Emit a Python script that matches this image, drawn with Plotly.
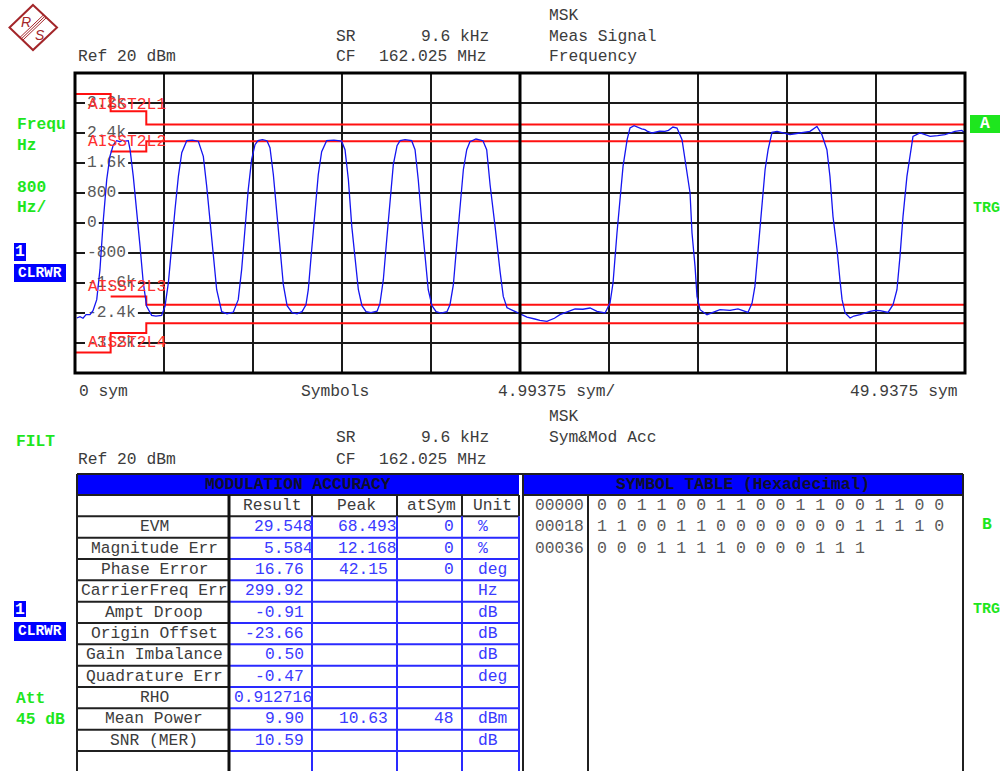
import plotly.graph_objects as go

W, H = 1003, 771

# ---------------- data ----------------
X_SPAN = 49.9375          # sym, full x range
X_DIV = 4.99375           # sym per division
Y_MIN, Y_MAX, Y_DIV = -4000, 4000, 800   # Hz

trace_sym = [0.10, 0.28, 0.45, 0.62, 0.84, 1.01, 1.22, 1.40, 1.59, 1.78, 1.96, 2.15, 2.34, 2.52, 2.67, 2.81, 2.99,
             3.09, 3.27, 3.46, 3.65, 3.83, 4.02, 4.30, 4.54, 4.86, 5.05, 5.24, 5.43, 5.61, 5.80, 5.99, 6.27, 6.59,
             6.92, 7.20, 7.39, 7.57, 7.76, 7.95, 8.23, 8.53, 8.88, 9.16, 9.35, 9.54, 9.72, 9.91, 10.10, 10.27, 10.52,
             10.77, 10.94, 11.13, 11.32, 11.50, 11.69, 11.90, 12.18, 12.46, 12.74, 12.96, 13.09, 13.28, 13.47, 13.65,
             13.84, 14.12, 14.53, 14.96, 15.15, 15.34, 15.53, 15.71, 15.90, 16.10, 16.33, 16.61, 16.95, 17.11, 17.30,
             17.49, 17.67, 17.86, 18.07, 18.24, 18.52, 18.89, 19.08, 19.26, 19.45, 19.64, 19.82, 20.03, 20.26, 20.54,
             20.87, 21.04, 21.23, 21.42, 21.60, 21.79, 21.98, 22.16, 22.50, 22.89, 23.10, 23.29, 23.57, 23.73, 23.85,
             24.03, 24.24, 24.80, 25.36, 25.80, 26.09, 26.48, 26.90, 27.21, 27.60, 28.06, 28.50, 28.90, 29.29, 29.74,
             30.02, 30.19, 30.41, 30.58, 30.75, 30.98, 31.14, 31.37, 31.60, 31.80, 31.98, 32.10, 32.38, 32.60, 32.80,
             33.10, 33.30, 33.55, 33.78, 34.06, 34.23, 34.51, 34.62, 34.79, 34.90, 35.07, 35.46, 35.80, 36.19, 36.75,
             37.20, 37.76, 37.99, 38.15, 38.32, 38.55, 38.72, 38.89, 39.11, 39.39, 39.70, 40.12, 40.40, 40.68, 40.90,
             41.24, 41.63, 41.91, 42.19, 42.36, 42.53, 42.76, 42.92, 43.04, 43.21, 43.49, 43.70, 44.05, 44.61, 44.90,
             45.17, 45.62, 45.90, 46.12, 46.29, 46.46, 46.68, 46.85, 47.02, 47.41, 47.70, 47.98, 48.40, 48.81, 49.10,
             49.37, 49.76, 49.94]
trace_hz = [-2533, -2499, -2541, -2445, -2445, -2339, -2045, -1245, 88, 1155, 1776, 2088, 2195, 2168, 2208, 2181, 2195,
            1955, 1243, 355, -624, -1592, -2224, -2464, -2485, -2464, -2224, -1592, -525, 355, 1243, 1875, 2195, 2208,
            2181, 1776, 976, 88, -792, -1779, -2365, -2419, -2379, -2045, -1245, -179, 888, 1688, 2088, 2195, 2221,
            2195, 2008, 1288, 355, -659, -1645, -2205, -2392, -2419, -2365, -2179, -1779, -712, 355, 1288,
            1901, 2195, 2208, 2181, 1955, 1155, -91, -979, -1779, -2205, -2365, -2392, -2352, -2152, -1512,
            -445, 621, 1555, 2061, 2195, 2221, 2195, 1955, 1155, 88, -925, -1779, -2205, -2365, -2405,
            -2365, -2179, -1645, -579, 488, 1421, 1955, 2168, 2240, 2195, 1955, 1021, -91, -845, -1291,
            -1957, -2259, -2384, -2507, -2560, -2597, -2624, -2540, -2445, -2380, -2293, -2300, -2267, -2357, -2400,
            -2133, -1592, -267, 621, 1509, 2221, 2533, 2595, 2540, 2510, 2488, 2450, 2400, 2420, 2450,
            2443, 2470, 2560, 2533, 2221, 1688, 800, -267, -1157, -1957, -2312, -2445, -2380, -2312, -2331,
            -2290, -2384, -2133, -1691, -712, 443, 1421, 1955, 2416, 2443, 2400, 2355, 2380, 2400, 2420,
            2443, 2576, 2355, 1955, 1243, 176, -712, -1512, -2045, -2400, -2533, -2480, -2445, -2357, -2330,
            -2339, -2384, -2179, -1779, -891, 176, 1243, 1776, 2309, 2400, 2350, 2309, 2330, 2355, 2400,
            2443, 2469, 2400]

limit_sym = [0.0, 2.0, 4.0, 49.9375]
limit_l1_hz = [3440, 2980, 2630, 2630]
limit_l2_sym = [2.0, 4.0, 49.9375]
limit_l2_hz = [1910, 2180, 2180]
limit_l3_hz = [-1960, -2180, -2180]
limit_l4_hz = [-3450, -2930, -2670, -2670]
limit_names = ["AISST2L1", "AISST2L2", "AISST2L3", "AISST2L4"]

y_tick_vals = [3200, 2400, 1600, 800, 0, -800, -1600, -2400, -3200]
y_tick_text = ["3.2k", "2.4k", "1.6k", "800", "0", "-800", "-1.6k", "-2.4k", "-3.2k"]

mod_cols = ["Result", "Peak", "atSym", "Unit"]
mod_rows = ["EVM", "Magnitude Err", "Phase Error", "CarrierFreq Err", "Ampt Droop", "Origin Offset",
            "Gain Imbalance", "Quadrature Err", "RHO", "Mean Power", "SNR (MER)"]
mod_result = ["29.548", "5.584", "16.76", "299.92", "-0.91", "-23.66", "0.50", "-0.47", "0.912716", "9.90", "10.59"]
mod_peak = ["68.493", "12.168", "42.15", "", "", "", "", "", "", "10.63", ""]
mod_atsym = ["0", "0", "0", "", "", "", "", "", "", "48", ""]
mod_unit = ["%", "%", "deg", "Hz", "dB", "dB", "dB", "deg", "", "dBm", "dB"]

sym_addr = ["00000", "00018", "00036"]
sym_bits = [
    [0, 0, 1, 1, 0, 0, 1, 1, 0, 0, 1, 1, 0, 0, 1, 1, 0, 0],
    [1, 1, 0, 0, 1, 1, 0, 0, 0, 0, 0, 0, 0, 1, 1, 1, 1, 0],
    [0, 0, 0, 1, 1, 1, 1, 0, 0, 0, 0, 1, 1, 1],
]

# ---------------- styling / layout helpers ----------------
MONO = "Liberation Mono, Courier New, monospace"
FS = 16.3
CW = 0.6 * FS
TXT = "#3c3c3c"
GRAY = "#5a5a5a"
BLUE_TXT = "#3a3aff"
BLUE = "#0000ff"
GREEN = "#1ee61e"
RED = "#ff1010"
LOGO = "#a3262a"
GRID = "#1a1a1a"

PL, PR, PT, PB = 75, 965, 73, 373   # plot area in px
SYM_PER_PX = X_SPAN / (PR - PL)
HZ_PER_PX = (Y_MAX - Y_MIN) / (PB - PT)


def PX(x):
    return x / W


def PY(y):
    return 1 - y / H


shapes = []
annos = []


def txt(x, y, s, color=TXT, anchor="left", size=FS, bold=False, bg=None, family=MONO):
    d = dict(x=PX(x), y=PY(y), xref="paper", yref="paper", text=("<b>%s</b>" % s) if bold else s,
             showarrow=False, xanchor=anchor, yanchor="middle", borderpad=0,
             font=dict(family=family, size=size, color=color))
    if bg:
        d["bgcolor"] = bg
    annos.append(d)


def hline(x0, x1, y, color="#202020", w=2):
    shapes.append(dict(type="line", xref="paper", yref="paper", x0=PX(x0), x1=PX(x1), y0=PY(y), y1=PY(y),
                       line=dict(color=color, width=w), layer="above"))


def vline(x, y0, y1, color="#202020", w=2):
    shapes.append(dict(type="line", xref="paper", yref="paper", x0=PX(x), x1=PX(x), y0=PY(y0), y1=PY(y1),
                       line=dict(color=color, width=w), layer="above"))


def rect(x0, y0, x1, y1, fill, lc=None, lw=0, layer="above"):
    shapes.append(dict(type="rect", xref="paper", yref="paper", x0=PX(x0), x1=PX(x1), y0=PY(y1), y1=PY(y0),
                       fillcolor=fill, line=dict(color=lc or fill, width=lw), layer=layer))


fig = go.Figure()

# white backing behind grid tick labels (breaks the grid lines, stays under the traces)
bx, by = [], []
for v, s in zip(y_tick_vals, y_tick_text):
    x0 = (85 - PL) * SYM_PER_PX
    x1 = (89 + len(s) * CW - PL) * SYM_PER_PX
    y0, y1 = v - 6 * HZ_PER_PX, v + 6 * HZ_PER_PX
    bx += [x0, x1, x1, x0, x0, None]
    by += [y0, y0, y1, y1, y0, None]
fig.add_trace(go.Scatter(x=bx, y=by, mode="lines", fill="toself", fillcolor="white",
                         line=dict(width=0, color="white"), hoverinfo="skip", showlegend=False))

# grid tick labels as text under the traces
fig.add_trace(go.Scatter(x=[(87 - PL) * SYM_PER_PX] * len(y_tick_vals), y=y_tick_vals, mode="text",
                         text=y_tick_text, textposition="middle right", marker=dict(size=0),
                         textfont=dict(family=MONO, size=FS, color=GRAY), hoverinfo="skip", showlegend=False))

# limit lines
for xs, ys in [(limit_sym, limit_l1_hz), (limit_l2_sym, limit_l2_hz), (limit_l2_sym, limit_l3_hz),
               (limit_sym, limit_l4_hz)]:
    fig.add_trace(go.Scatter(x=xs, y=ys, mode="lines", line=dict(color=RED, width=2, shape="hv"),
                             hoverinfo="skip", showlegend=False))

# measured trace
fig.add_trace(go.Scatter(x=trace_sym, y=trace_hz, mode="lines", line=dict(color="#1515f0", width=1.3),
                         hoverinfo="skip", showlegend=False))

# limit line names
for name, ypx in zip(limit_names, [105, 141, 286, 342]):
    txt(86.5, ypx, name, color="#ff3030")

# frame and center line
shapes.append(dict(type="rect", xref="x domain", yref="y domain", x0=0, x1=1, y0=0, y1=1,
                   line=dict(color="black", width=3), layer="above"))
shapes.append(dict(type="line", xref="x", yref="y domain", x0=X_SPAN / 2, x1=X_SPAN / 2, y0=0, y1=1,
                   line=dict(color="black", width=3), layer="above"))

# ---------------- R&S logo ----------------
shapes.append(dict(type="path", xref="paper", yref="paper",
                   path="M %f,%f L %f,%f L %f,%f L %f,%f Z" % (PX(33), PY(5), PX(57), PY(27.5), PX(33), PY(50),
                                                                PX(9.5), PY(27.5)),
                   line=dict(color=LOGO, width=2), fillcolor="rgba(0,0,0,0)"))
for off in (-1.4, 0, 1.4):
    shapes.append(dict(type="line", xref="paper", yref="paper", x0=PX(45 + off), y0=PY(16.2 + off),
                       x1=PX(21.5 + off), y1=PY(38.7 + off), line=dict(color=LOGO, width=1)))
txt(26.3, 21.5, "<i>R</i>", color=LOGO, anchor="center", size=14, family="Liberation Sans")
txt(40.0, 34.7, "<i>S</i>", color=LOGO, anchor="center", size=14, family="Liberation Sans")

# ---------------- header texts (upper screen) ----------------
txt(548, 15, "MSK")
txt(335, 36, "SR")
txt(490, 36, "9.6 kHz", anchor="right")
txt(548, 36, "Meas Signal")
txt(77, 57, "Ref 20 dBm")
txt(335, 57, "CF")
txt(378, 57, "162.025 MHz")
txt(548, 57, "Frequency")

txt(78, 391, "0 sym")
txt(300, 391, "Symbols")
txt(497, 391, "4.99375 sym/")
txt(958, 391, "49.9375 sym", anchor="right")

# side annotations upper
txt(16, 125, "Frequ", color=GREEN, bold=True)
txt(16, 145, "Hz", color=GREEN, bold=True)
txt(16, 187, "800", color=GREEN, bold=True)
txt(16, 208, "Hz/", color=GREEN, bold=True)
rect(14, 243, 26, 261, BLUE)
txt(20, 252, "1", color="white", anchor="center", bold=True)
rect(14, 264, 66, 282, BLUE)
txt(40, 273, "CLRWR", color="white", anchor="center", bold=True, size=14.5)
rect(970, 115, 1000, 133, GREEN)
txt(985, 124, "A", color="white", anchor="center", bold=True)
txt(972, 209, "TRG", color=GREEN, bold=True, size=15)

# ---------------- lower screen ----------------
txt(548, 416, "MSK")
txt(335, 437, "SR")
txt(490, 437, "9.6 kHz", anchor="right")
txt(548, 437, "Sym&Mod Acc")
txt(15, 441, "FILT", color=GREEN, bold=True)
txt(77, 459, "Ref 20 dBm")
txt(335, 459, "CF")
txt(378, 459, "162.025 MHz")

rect(14, 601, 26, 617, BLUE)
txt(20, 609, "1", color="white", anchor="center", bold=True)
rect(14, 622, 66, 641, BLUE)
txt(40, 631, "CLRWR", color="white", anchor="center", bold=True, size=14.5)
txt(15, 698, "Att", color=GREEN, bold=True)
txt(15, 719, "45 dB", color=GREEN, bold=True)
txt(981, 524, "B", color=GREEN, bold=True)
txt(972, 609, "TRG", color=GREEN, bold=True, size=15)

# modulation accuracy table
cols_x = [77, 229, 312, 397, 462, 519]
TOP, ROW0, RH = 474, 495, 21.33
n_lines = len(mod_rows) + 3
rect(77, TOP, 519, ROW0, BLUE)
rect(523, TOP, 963, ROW0, BLUE)
txt((77 + 519) / 2, 484.5, "MODULATION ACCURACY", color="#10102a", anchor="center", bold=True)
txt((523 + 963) / 2, 484.5, "SYMBOL TABLE (Hexadecimal)", color="#10102a", anchor="center", bold=True)
hline(77, 963, TOP, "#202020", 2)

for k in range(n_lines):
    y = ROW0 + k * RH
    hline(77, 229, y, "#202020", 2)
    hline(229, 519, y, "#202020" if k < 2 else "#2a2aff", 2)
vline(77, TOP, H, "#202020", 2)
vline(229, ROW0, H, "#101010", 3)
for x in cols_x[2:]:
    vline(x, ROW0, ROW0 + RH, "#202020", 2)
    vline(x, ROW0 + RH, H, "#2a2aff", 2)

for j, c in enumerate(mod_cols):
    txt((cols_x[j + 1] + cols_x[j + 2]) / 2 + 2, ROW0 + RH / 2, c, anchor="center")


def dot_left(s, dot_x, right_x):
    i = s.find(".")
    left = dot_x - (i if i >= 0 else len(s)) * CW
    if left + len(s) * CW > right_x:
        left = right_x - len(s) * CW
    return left


for i, lab in enumerate(mod_rows):
    yc = ROW0 + RH * (i + 1.5)
    txt((cols_x[0] + cols_x[1]) / 2 + 1, yc, lab, anchor="center")
    if mod_result[i]:
        txt(dot_left(mod_result[i], 273.6, 311.5), yc, mod_result[i], color=BLUE_TXT)
    if mod_peak[i]:
        txt(dot_left(mod_peak[i], 357.9, 396), yc, mod_peak[i], color=BLUE_TXT)
    if mod_atsym[i]:
        txt(454.5, yc, mod_atsym[i], color=BLUE_TXT, anchor="right")
    if mod_unit[i]:
        txt(476.5, yc, mod_unit[i], color=BLUE_TXT)

# symbol table
vline(523, TOP, H, "#202020", 2)
vline(588, ROW0, H, "#202020", 2)
vline(963, TOP, H, "#202020", 2)
hline(523, 963, ROW0, "#202020", 2)
for r, (addr, bits) in enumerate(zip(sym_addr, sym_bits)):
    yc = ROW0 + RH * (r + 0.5)
    txt(534, yc, addr, color=GRAY)
    txt(595.5, yc, " ".join(str(b) for b in bits), color=GRAY, size=16.55)

fig.update_layout(
    width=W, height=H, autosize=False,
    margin=dict(l=0, r=0, t=0, b=0, pad=0),
    paper_bgcolor="white", plot_bgcolor="white",
    showlegend=False,
    xaxis=dict(domain=[PL / W, PR / W], range=[0, X_SPAN], tick0=0, dtick=X_DIV, showgrid=True,
               gridcolor=GRID, gridwidth=2, zeroline=False, showticklabels=False, ticks="", showline=False,
               fixedrange=True),
    yaxis=dict(domain=[1 - PB / H, 1 - PT / H], range=[Y_MIN, Y_MAX], tick0=0, dtick=Y_DIV, showgrid=True,
               gridcolor=GRID, gridwidth=2, zeroline=False, showticklabels=False, ticks="", showline=False,
               fixedrange=True),
    shapes=shapes,
    annotations=annos,
)

fig.write_html("out.html")
